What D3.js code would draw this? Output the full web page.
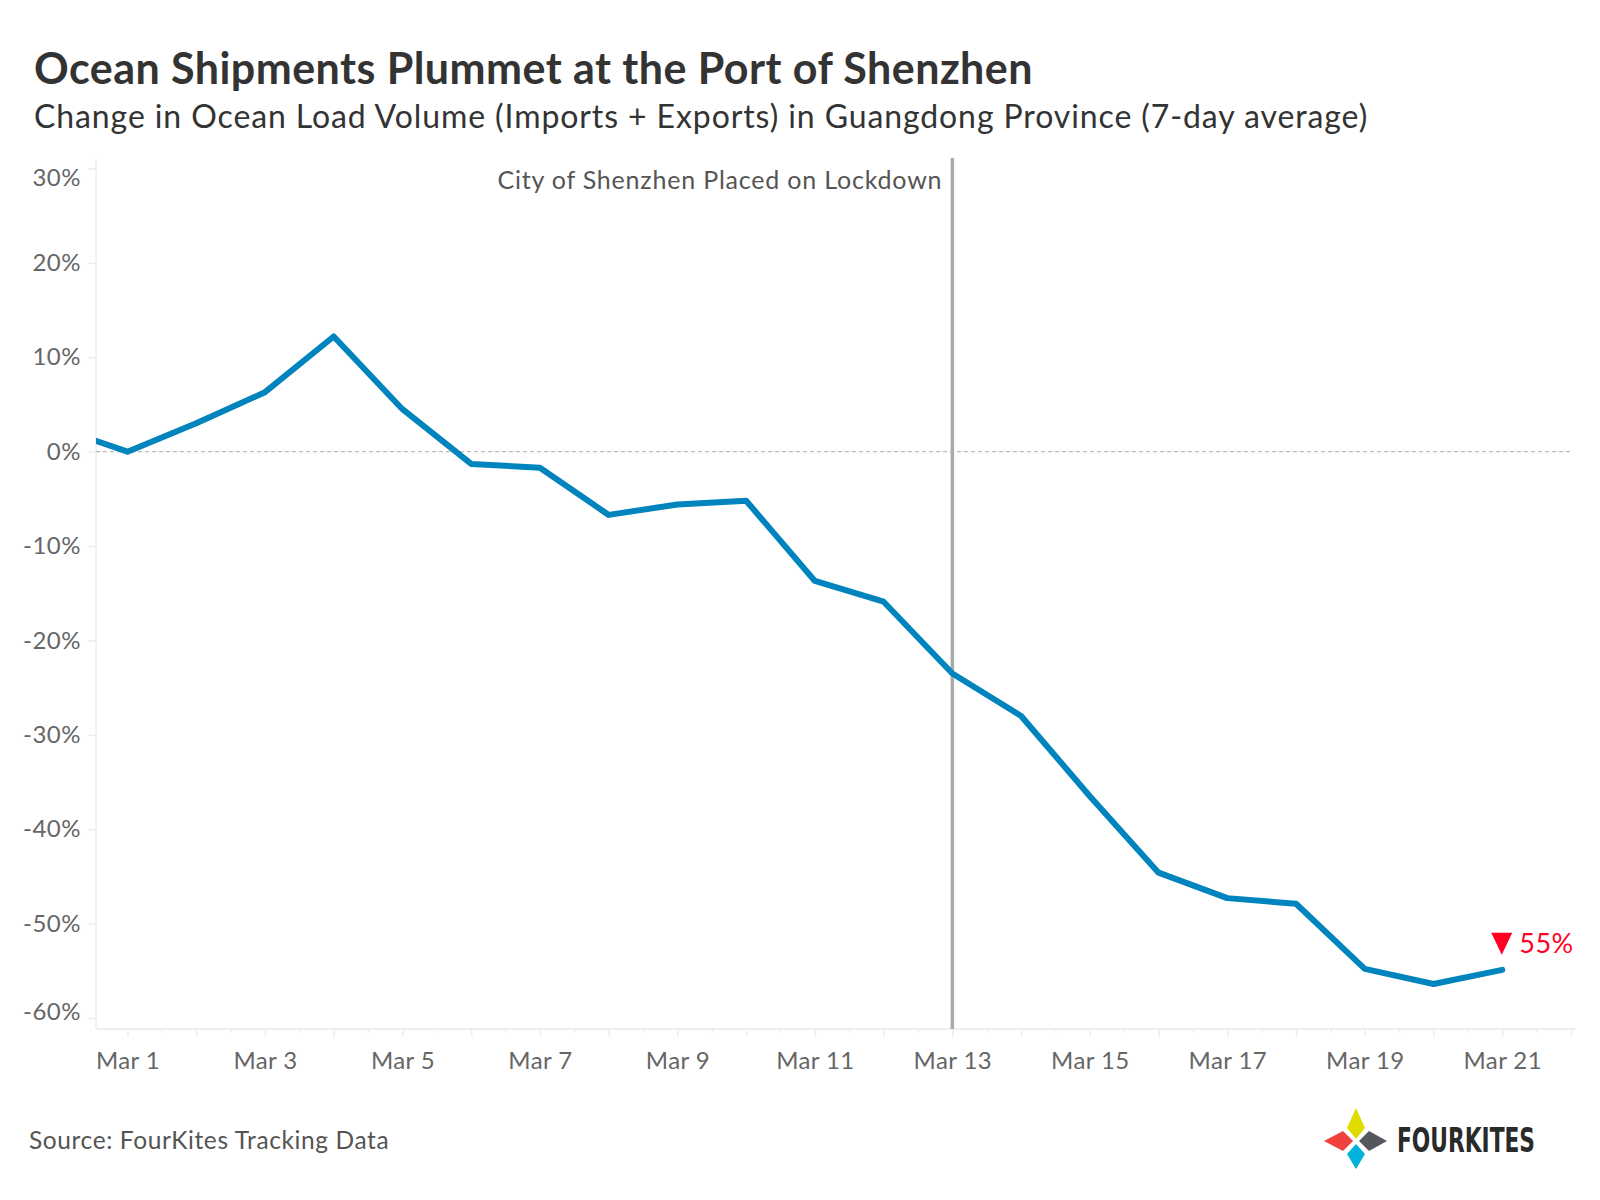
<!DOCTYPE html>
<html>
<head>
<meta charset="utf-8">
<script src="https://cdn.jsdelivr.net/npm/d3@7"></script>
<style>
  html, body { margin: 0; padding: 0; background: #fff; }
  svg { display: block; font-family: Lato, "Noto Sans", sans-serif; }
</style>
</head>
<body>
<div id="chart"></div>
<script>
// 7-day average change in ocean load volume, Guangdong
const dates = [
  '2022-02-28', '2022-03-01', '2022-03-02', '2022-03-03', '2022-03-04', '2022-03-05',
  '2022-03-06', '2022-03-07', '2022-03-08', '2022-03-09', '2022-03-10', '2022-03-11',
  '2022-03-12', '2022-03-13', '2022-03-14', '2022-03-15', '2022-03-16', '2022-03-17',
  '2022-03-18', '2022-03-19', '2022-03-20', '2022-03-21'
];
const changePct = [
  2.5, 0.0, 3.0, 6.3, 12.2, 4.5,
  -1.3, -1.7, -6.7, -5.6, -5.2, -13.7,
  -15.9, -23.5, -28.0, -36.5, -44.6, -47.3,
  -47.9, -54.8, -56.4, -54.9
];
const yTicks = [30, 20, 10, 0, -10, -20, -30, -40, -50, -60];
const lockdownDate = '2022-03-13';
const lockdownLabel = 'City of Shenzhen Placed on Lockdown';
const endLabel = '55%';

const parse = d3.timeParse('%Y-%m-%d');
const data = dates.map((d, i) => ({date: parse(d), value: changePct[i]}));

const width = 1600;
const height = 1200;
const plot = {left: 96, right: 1571, top: 158, bottom: 1029};

const svg = d3.select('#chart').append('svg')
  .attr('width', width)
  .attr('height', height);

// titles
svg.append('text')
  .attr('x', 34).attr('y', 84)
  .attr('font-size', 43).attr('font-weight', 700)
  .attr('letter-spacing', 0.45)
  .attr('fill', '#333')
  .text('Ocean Shipments Plummet at the Port of Shenzhen');

svg.append('text')
  .attr('x', 34).attr('y', 128)
  .attr('font-size', 32)
  .attr('letter-spacing', 0.9)
  .attr('fill', '#333')
  .text('Change in Ocean Load Volume (Imports + Exports) in Guangdong Province (7-day average)');

const x = d3.scaleTime()
  .domain([d3.timeHour.offset(parse('2022-03-01'), -11), parse('2022-03-22')])
  .range([plot.left, plot.right]);

const y = d3.scaleLinear()
  .domain([-60, 30])
  .range([1018, 168.5]);

// axis frame
svg.append('line')
  .attr('x1', plot.left).attr('x2', plot.left)
  .attr('y1', plot.top).attr('y2', plot.bottom)
  .attr('stroke', '#eee').attr('stroke-width', 1.5);
svg.append('line')
  .attr('x1', plot.left).attr('x2', plot.right + 5)
  .attr('y1', plot.bottom).attr('y2', plot.bottom)
  .attr('stroke', '#eee').attr('stroke-width', 2);

// y axis
const yAxis = svg.append('g')
  .attr('transform', `translate(${plot.left},0)`)
  .call(d3.axisLeft(y).tickValues(yTicks).tickSize(8).tickPadding(7).tickFormat(d => d + '%'));
yAxis.select('.domain').remove();
yAxis.selectAll('.tick line').attr('stroke', '#eee').attr('stroke-width', 1.5);
yAxis.selectAll('.tick text')
  .attr('font-size', 24).attr('fill', '#666')
  .attr('letter-spacing', 0.5)
  .attr('font-family', 'Lato, "Noto Sans", sans-serif')
  .attr('dy', d => d === 30 ? '0.72em' : d === -60 ? '0.05em' : '0.32em');

// x axis: day ticks, half-day minor ticks, labels every other day
const xMajor = svg.append('g')
  .attr('transform', `translate(0,${plot.bottom})`)
  .call(d3.axisBottom(x)
    .ticks(d3.timeDay.every(1))
    .tickSize(8).tickPadding(15)
    .tickFormat(d => d.getDate() % 2 === 1 ? d3.timeFormat('%b %-d')(d) : ''));
xMajor.select('.domain').remove();
xMajor.selectAll('.tick line').attr('stroke', '#eee').attr('stroke-width', 1.5);
xMajor.selectAll('.tick text')
  .attr('font-size', 24).attr('fill', '#666')
  .attr('letter-spacing', 0.4)
  .attr('font-family', 'Lato, "Noto Sans", sans-serif');

const halfDays = d3.timeHour.every(12).range(x.domain()[0], x.domain()[1])
  .filter(d => d.getHours() === 12);
const xMinor = svg.append('g')
  .attr('transform', `translate(0,${plot.bottom})`)
  .call(d3.axisBottom(x).tickValues(halfDays).tickSize(4).tickFormat(''));
xMinor.select('.domain').remove();
xMinor.selectAll('.tick line').attr('stroke', '#eee').attr('stroke-width', 1.5);

// zero line
svg.append('line')
  .attr('x1', plot.left).attr('x2', plot.right)
  .attr('y1', y(0)).attr('y2', y(0))
  .attr('stroke', '#bbb').attr('stroke-width', 1.3)
  .attr('stroke-dasharray', '4,3');

// lockdown marker
const xLock = x(parse(lockdownDate));
svg.append('line')
  .attr('x1', xLock).attr('x2', xLock)
  .attr('y1', plot.top).attr('y2', plot.bottom)
  .attr('stroke', '#aaa').attr('stroke-width', 3.5);
svg.append('text')
  .attr('x', xLock - 10).attr('y', 189)
  .attr('text-anchor', 'end')
  .attr('font-size', 25).attr('fill', '#555')
  .attr('letter-spacing', 0.8)
  .text(lockdownLabel);

// line
svg.append('clipPath').attr('id', 'plotClip')
  .append('rect')
  .attr('x', plot.left).attr('y', plot.top - 10)
  .attr('width', plot.right - plot.left).attr('height', plot.bottom - plot.top + 10);

const line = d3.line()
  .x(d => x(d.date))
  .y(d => y(d.value));

svg.append('path')
  .datum(data)
  .attr('clip-path', 'url(#plotClip)')
  .attr('d', line)
  .attr('fill', 'none')
  .attr('stroke', '#0084be')
  .attr('stroke-width', 6)
  .attr('stroke-linejoin', 'round')
  .attr('stroke-linecap', 'round');

// end annotation
const last = data[data.length - 1];
const ex = x(last.date);
const ey = y(last.value);
svg.append('path')
  .attr('d', d3.line()([[ex - 11, ey - 37], [ex + 10, ey - 37], [ex - 0.5, ey - 15]]) + 'Z')
  .attr('fill', '#ff0022');
svg.append('text')
  .attr('x', ex + 17).attr('y', ey - 17)
  .attr('font-size', 27).attr('fill', '#ff0022')
  .attr('letter-spacing', 0.5)
  .text(endLabel);

// source
svg.append('text')
  .attr('x', 29).attr('y', 1149)
  .attr('font-size', 24.5).attr('fill', '#555')
  .attr('letter-spacing', 0.6)
  .text('Source: FourKites Tracking Data');

// logo
const logo = svg.append('g').attr('transform', 'translate(1356,1141)');
const kites = [
  {fill: '#e0dc00', pts: [[0, -33], [9, -13], [0, -2], [-9, -13]]},
  {fill: '#f0413f', pts: [[-32, 0], [-13, -10], [-3, 0], [-13, 10]]},
  {fill: '#54585c', pts: [[3, 0], [13, -10], [31, 0], [13, 10]]},
  {fill: '#00b1dd', pts: [[0, 3], [9, 13], [0, 28], [-9, 13]]}
];
logo.selectAll('path.kite').data(kites).enter().append('path')
  .attr('class', 'kite')
  .attr('d', d => d3.line()(d.pts) + 'Z')
  .attr('fill', d => d.fill);
logo.append('text')
  .attr('x', 41).attr('y', 11)
  .attr('font-family', '"Liberation Sans Narrow", "DejaVu Sans Condensed", sans-serif')
  .attr('font-weight', 700)
  .attr('font-size', 33)
  .attr('fill', '#2a2a2a')
  .attr('textLength', 138)
  .attr('lengthAdjust', 'spacingAndGlyphs')
  .text('FOURKITES');
</script>
</body>
</html>
